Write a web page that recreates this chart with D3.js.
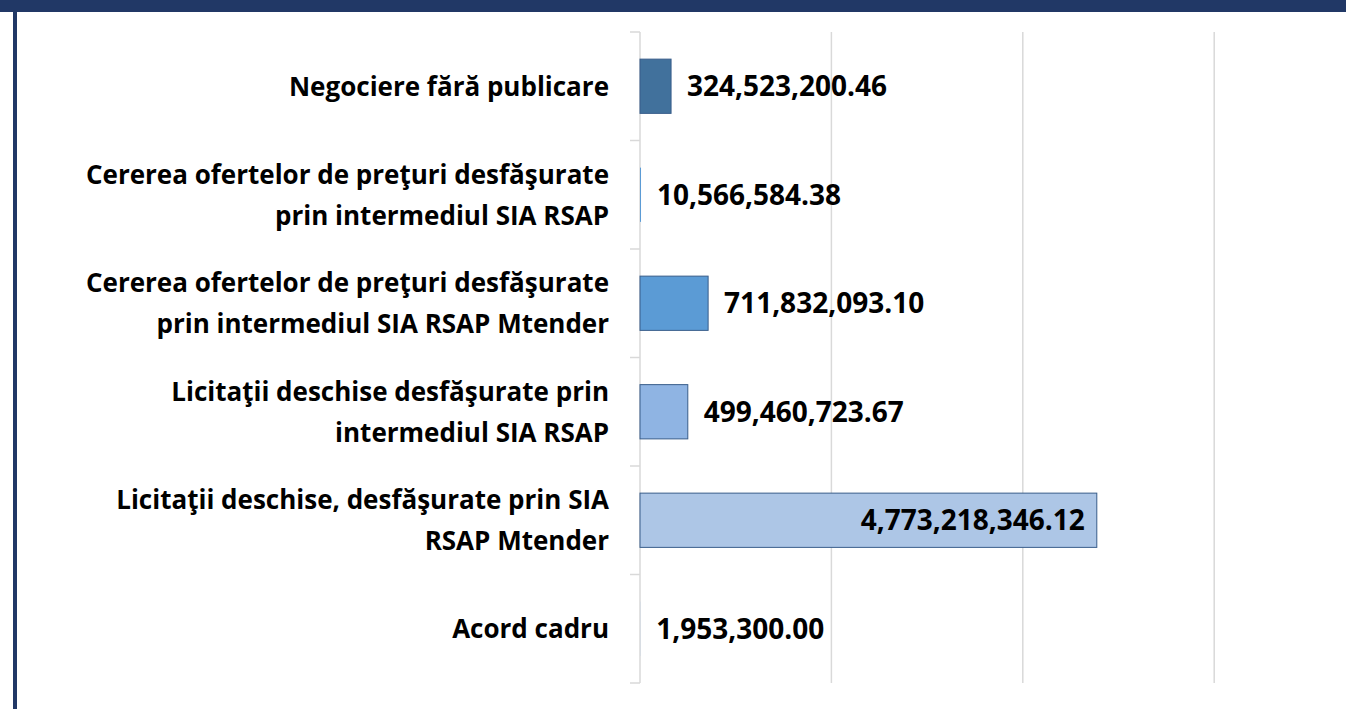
<!DOCTYPE html>
<html>
<head>
<meta charset="utf-8">
<script src="https://cdn.jsdelivr.net/npm/d3@7"></script>
<style>
  html, body { margin: 0; padding: 0; background: #fff; }
  svg { display: block; }
</style>
</head>
<body>
<div id="container"></div>
<script>
const categories = [
  ['Negociere fără publicare'],
  ['Cererea ofertelor de preţuri desfăşurate', 'prin intermediul SIA RSAP'],
  ['Cererea ofertelor de preţuri desfăşurate', 'prin intermediul SIA RSAP Mtender'],
  ['Licitaţii deschise desfăşurate prin', 'intermediul SIA RSAP'],
  ['Licitaţii deschise, desfăşurate prin SIA', 'RSAP Mtender'],
  ['Acord cadru']
];
const values = [324523200.46, 10566584.38, 711832093.10, 499460723.67, 4773218346.12, 1953300.00];
const barColors = ['#41719c', '#5b9bd5', '#5b9bd5', '#8fb4e3', '#adc6e6', '#adc6e6'];
const gridTicks = [2e9, 4e9, 6e9];

const width = 1346;
const height = 709;
const font = '"Open Sans", sans-serif';

const svg = d3.select('#container')
  .append('svg')
  .attr('width', width)
  .attr('height', height);

// frame
svg.append('rect').attr('x', 0).attr('y', 0).attr('width', width).attr('height', 12).attr('fill', '#213866');
svg.append('rect').attr('x', 13).attr('y', 0).attr('width', 4).attr('height', height).attr('fill', '#213866');

const x = d3.scaleLinear().domain([0, 7e9]).range([640, 640 + 7 * 95.7]);
const y = d3.scaleBand().domain(d3.range(values.length)).range([32, 683]).paddingInner(0.5).paddingOuter(0.25);

// gridlines
svg.selectAll('.grid')
  .data(gridTicks)
  .enter()
  .append('line')
  .attr('x1', d => x(d)).attr('x2', d => x(d))
  .attr('y1', 32).attr('y2', 683)
  .attr('stroke', '#d9d9d9')
  .attr('stroke-width', 1.5);

// category axis
const band = (683 - 32) / values.length;
svg.append('line')
  .attr('x1', 640).attr('x2', 640)
  .attr('y1', 32).attr('y2', 683)
  .attr('stroke', '#d9d9d9').attr('stroke-width', 1.5);
svg.selectAll('.tick')
  .data(d3.range(values.length + 1))
  .enter()
  .append('line')
  .attr('x1', 630).attr('x2', 640)
  .attr('y1', d => 32 + d * band).attr('y2', d => 32 + d * band)
  .attr('stroke', '#d9d9d9').attr('stroke-width', 1.5);

// bars
svg.selectAll('.bar')
  .data(values)
  .enter()
  .append('rect')
  .attr('x', x(0))
  .attr('y', (d, i) => y(i))
  .attr('width', d => x(d) - x(0))
  .attr('height', y.bandwidth())
  .attr('fill', (d, i) => barColors[i])
  .attr('stroke', d => x(d) - x(0) > 3 ? '#385d8a' : 'none')
  .attr('stroke-width', 1);

// value labels
const fmt = d3.format(',.2f');
svg.selectAll('.val')
  .data(values)
  .enter()
  .append('text')
  .attr('x', d => d > 3e9 ? x(d) - 12 : x(d) + 16)
  .attr('y', (d, i) => y(i) + y.bandwidth() / 2)
  .attr('dy', '0.36em')
  .attr('text-anchor', d => d > 3e9 ? 'end' : 'start')
  .attr('font-family', font)
  .attr('font-weight', 'bold')
  .attr('font-size', '28px')
  .attr('fill', '#000')
  .text(d => fmt(d));

// category labels
const lab = svg.selectAll('.cat')
  .data(categories)
  .enter()
  .append('text')
  .attr('text-anchor', 'end')
  .attr('font-family', font)
  .attr('font-weight', 'bold')
  .attr('font-size', '26px')
  .attr('fill', '#000');
lab.each(function (lines, i) {
  const cy = y(i) + y.bandwidth() / 2;
  const lh = 41;
  const top = cy - (lines.length - 1) * lh / 2;
  d3.select(this).selectAll('tspan')
    .data(lines)
    .enter()
    .append('tspan')
    .attr('x', 609)
    .attr('y', (d, j) => top + j * lh)
    .attr('dy', '0.36em')
    .text(d => d);
});
</script>
</body>
</html>
